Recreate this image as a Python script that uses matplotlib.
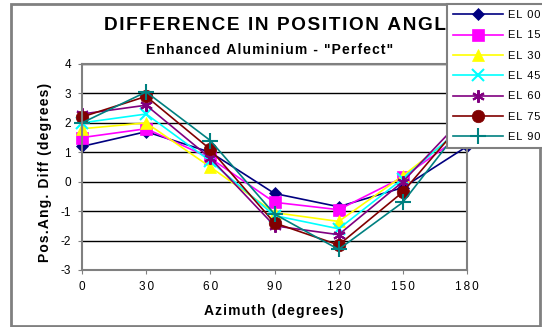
import matplotlib
matplotlib.use("Agg")
import matplotlib.pyplot as plt
from matplotlib.patches import Rectangle

plt.rcParams['font.family'] = ['Liberation Sans', 'DejaVu Sans']

azimuth = [0, 30, 60, 90, 120, 150, 180]
x_ticks = [0, 30, 60, 90, 120, 150, 180]
y_ticks = [-3, -2, -1, 0, 1, 2, 3, 4]

series_names = ["EL 00", "EL 15", "EL 30", "EL 45", "EL 60", "EL 75", "EL 90"]
el00 = [1.2, 1.7, 1.0, -0.4, -0.85, -0.2, 1.2]
el15 = [1.5, 1.8, 0.8, -0.7, -0.95, 0.15, 1.7]
el30 = [1.8, 2.0, 0.5, -1.05, -1.35, 0.2, 1.9]
el45 = [2.0, 2.3, 0.7, -1.15, -1.6, 0.1, 2.0]
el60 = [2.3, 2.6, 0.8, -1.5, -1.8, 0.0, 2.3]
el75 = [2.2, 2.9, 1.1, -1.4, -2.15, -0.35, 2.2]
el90 = [2.0, 3.05, 1.4, -1.1, -2.3, -0.7, 2.1]
series_values = [el00, el15, el30, el45, el60, el75, el90]

colors = ["#000080", "#FF00FF", "#FFFF00", "#00FFFF", "#800080", "#800000", "#008080"]
markers = ["D", "s", "^", "x", (6, 2, 0), "o", "+"]
msizes = [6, 8, 8, 8, 9, 9, 11]


def sp(s, n=1):
    return ("\u200a" * n).join(s)


W, H = 542, 327
fig = plt.figure(figsize=(W / 100, H / 100), dpi=100)


def fx(px):
    return px / W


def fy(py):
    return 1 - py / H


# outer chart frame
fig.patches.append(Rectangle((fx(11), fy(326)), fx(540) - fx(11), fy(4) - fy(326),
                             transform=fig.transFigure, fill=False, edgecolor="#808080",
                             linewidth=2))

ax = fig.add_axes([fx(82), fy(270), fx(467) - fx(82), fy(64) - fy(270)])
ax.set_zorder(1)
for name, vals, c, m, ms in zip(series_names, series_values, colors, markers, msizes):
    ax.plot(azimuth, vals, color=c, marker=m, markersize=ms, linewidth=1.2,
            markeredgewidth=1.5 if m in ("x", "+") or isinstance(m, tuple) else 0.5,
            markeredgecolor=c, label=sp(name, 1), clip_on=False)

ax.set_xlim(0, 180)
ax.set_ylim(-3, 4)
ax.set_xticks(x_ticks)
ax.set_yticks(y_ticks)
ax.set_xticklabels([sp(str(v), 2) for v in x_ticks], fontsize=8.5)
ax.set_yticklabels([str(v) for v in y_ticks], fontsize=8.5)
ax.tick_params(axis='both', direction='out', length=3, color="#808080", pad=5)
ax.yaxis.grid(True, color="black", linewidth=1)
ax.set_axisbelow(True)
for s in ax.spines.values():
    s.set_color("#808080")
    s.set_linewidth(1.5)

fig.text(fx(104), fy(26), sp("DIFFERENCE IN POSITION ANGLE"), ha="left", va="center",
         fontsize=13.7, fontweight="bold", zorder=0)
fig.text(fx(270), fy(50), sp('Enhanced Aluminium - "Perfect"'), ha="center", va="center",
         fontsize=10, fontweight="bold", zorder=0)
fig.text(fx(274), fy(311), sp("Azimuth (degrees)"), ha="center", va="center",
         fontsize=10, fontweight="bold")
fig.text(fx(45), fy(172), sp("Pos.Ang. Diff (degrees)"), ha="center", va="center",
         fontsize=10, fontweight="bold", rotation=90)

leg = fig.legend(loc="upper left", bbox_to_anchor=(fx(447), fy(4)), fontsize=8,
                 frameon=True, fancybox=False, borderpad=0.55, labelspacing=0.93,
                 handlelength=4.5, handletextpad=0.4, borderaxespad=0)
leg.set_zorder(10)
leg.get_frame().set_edgecolor("#808080")
leg.get_frame().set_linewidth(1.5)
leg.get_frame().set_alpha(1)

fig.savefig("out.png", dpi=100)
